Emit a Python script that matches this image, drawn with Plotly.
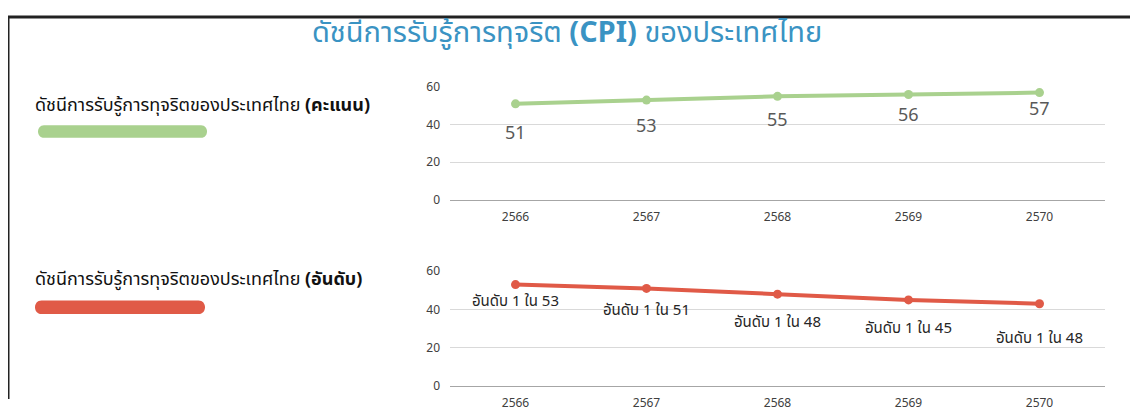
import plotly.graph_objects as go

years = ["2566", "2567", "2568", "2569", "2570"]
score = [51, 53, 55, 56, 57]
rank = [53, 51, 48, 45, 43]
rank_labels = ["อันดับ 1 ใน 53", "อันดับ 1 ใน 51", "อันดับ 1 ใน 48", "อันดับ 1 ใน 45", "อันดับ 1 ใน 48"]
score_label_shift = [-27, -24, -22, -19, -15]
rank_label_shift = [-16, -21, -27, -27, -33]

title_text = "ดัชนีการรับรู้การทุจริต <b>(CPI)</b> ของประเทศไทย"
label_score = "ดัชนีการรับรู้การทุจริตของประเทศไทย <b>(คะแนน)</b>"
label_rank = "ดัชนีการรับรู้การทุจริตของประเทศไทย <b>(อันดับ)</b>"

# the page body has an 8px default margin; keep the figure inside the window
OFF = 8
W, H = 1138 - 2 * OFF, 419 - 2 * OFF
# observed vertical mapping of the captured page: window_y = SY * fig_y + TY
SY, TY = 0.957, 16.4
GREEN = "#a9d18e"
RED = "#e05a47"
THAI = "Noto Sans Thai, Noto Sans, sans-serif"
TICKF = dict(family="Noto Sans, Open Sans, sans-serif", size=12, color="#404040")


def px(p):
    return (p - OFF) / W


def py(p):
    return 1 - ((p - TY) / SY) / H


fig = go.Figure()
fig.add_trace(go.Scatter(x=years, y=score, mode="lines+markers", xaxis="x", yaxis="y",
                         line=dict(color=GREEN, width=4), marker=dict(color=GREEN, size=9),
                         hoverinfo="skip", showlegend=False, cliponaxis=False))
fig.add_trace(go.Scatter(x=years, y=rank, mode="lines+markers", xaxis="x2", yaxis="y2",
                         line=dict(color=RED, width=4), marker=dict(color=RED, size=9),
                         hoverinfo="skip", showlegend=False, cliponaxis=False))

annotations = []
for i, (yv, s) in enumerate(zip(score, score_label_shift)):
    annotations.append(dict(x=i, y=yv, xref="x", yref="y", text=str(yv), showarrow=False,
                            yshift=s / SY, font=dict(family="Noto Sans, Open Sans, sans-serif", size=18, color="#595959")))
for i, (yv, t, s) in enumerate(zip(rank, rank_labels, rank_label_shift)):
    annotations.append(dict(x=i, y=yv, xref="x2", yref="y2", text=t, showarrow=False,
                            yshift=s / SY, font=dict(family=THAI, size=15, color="#262626")))

annotations.append(dict(x=px(567), y=py(33), xref="paper", yref="paper", text=title_text,
                        showarrow=False, xanchor="center", yanchor="middle",
                        font=dict(family=THAI, size=29, color="#3a93c3")))
annotations.append(dict(x=px(33), y=py(106), xref="paper", yref="paper", text=label_score,
                        showarrow=False, xanchor="left", yanchor="middle",
                        font=dict(family=THAI, size=18, color="#111111")))
annotations.append(dict(x=px(33), y=py(281), xref="paper", yref="paper", text=label_rank,
                        showarrow=False, xanchor="left", yanchor="middle",
                        font=dict(family=THAI, size=18, color="#111111")))


def pill(x0, x1, yc, h, color):
    x0 -= OFF
    x1 -= OFF
    r = h / SY / 2
    rx = h / 2
    k = 4 / 3 * rx
    path = (f"M {x0 + rx},{-r} L {x1 - rx},{-r} C {x1 - rx + k},{-r} {x1 - rx + k},{r} {x1 - rx},{r} "
            f"L {x0 + rx},{r} C {x0 + rx - k},{r} {x0 + rx - k},{-r} {x0 + rx},{-r} Z")
    return dict(type="path", xref="paper", yref="paper", xsizemode="pixel", ysizemode="pixel",
                xanchor=0, yanchor=py(yc), path=path, fillcolor=color, line=dict(width=0))


shapes = [
    pill(38, 207, 132, 12, GREEN),
    pill(35, 205, 309.5, 13, RED),
    dict(type="line", xref="paper", yref="paper", x0=0, x1=1, y0=1, y1=1,
         line=dict(color="#222222", width=3)),
    dict(type="line", xref="paper", yref="paper", x0=0, x1=0, y0=1, y1=0,
         line=dict(color="#222222", width=3)),
]

xdom = [px(450), px(1105)]
axis_common = dict(type="category", range=[-0.5, 4.5], showgrid=False, ticks="",
                   showline=True, linecolor="#a6a6a6", linewidth=1, tickfont=TICKF,
                   zeroline=False, fixedrange=True, ticklabelstandoff=6)
yaxis_common = dict(range=[0, 60], tickvals=[0, 20, 40, 60], showgrid=True,
                    gridcolor="#d9d9d9", gridwidth=1, zeroline=False, showline=False,
                    tickfont=TICKF, ticks="", fixedrange=True, ticklabelstandoff=9)

fig.update_layout(
    width=W, height=H,
    margin=dict(l=0, r=0, t=0, b=0),
    paper_bgcolor="white", plot_bgcolor="white",
    xaxis=dict(domain=xdom, anchor="y", **axis_common),
    yaxis=dict(domain=[py(201), py(87)], anchor="x", **yaxis_common),
    xaxis2=dict(domain=xdom, anchor="y2", **axis_common),
    yaxis2=dict(domain=[py(389), py(273)], anchor="x2", **yaxis_common),
    annotations=annotations,
    shapes=shapes,
    showlegend=False,
)

fig.write_html("out.html")
